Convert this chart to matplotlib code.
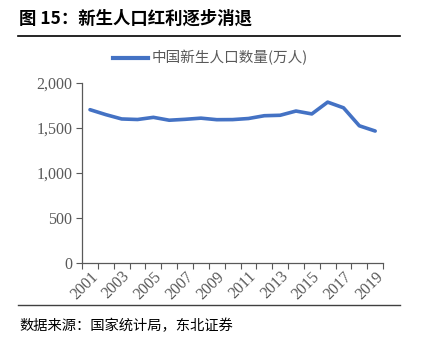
import matplotlib.pyplot as plt
from matplotlib.lines import Line2D

years = list(range(2001, 2020))
births = [1702, 1647, 1599, 1593, 1617, 1585, 1595, 1608, 1591, 1592,
          1604, 1635, 1640, 1687, 1655, 1786, 1723, 1523, 1465]
yticks = [0, 500, 1000, 1500, 2000]

cjk = ['Noto Sans CJK SC', 'DejaVu Sans']
serif = ['Liberation Serif', 'DejaVu Serif']
grey = '#595959'

fig = plt.figure(figsize=(4.21, 3.41), dpi=100)
ax = fig.add_axes([0.195, 0.229, 0.715, 0.528])

x = list(range(len(years)))
ax.plot(x, births, color='#4472C4', lw=2.6, solid_capstyle='round')

ax.set_xlim(-0.5, len(years) - 0.5)
ax.set_ylim(0, 2000)
ax.set_yticks(yticks)
ax.set_yticklabels([f'{v:,}' for v in yticks], fontfamily=serif, fontsize=11.5, color=grey)

# tick marks sit on category boundaries, labels on every other year
ax.set_xticks([i - 0.5 for i in range(len(years) + 1)])
ax.set_xticklabels([])
ax.set_xticks(x[::2], minor=True)
ax.set_xticklabels([str(y) for y in years[::2]], minor=True, rotation=45,
                   fontfamily=serif, fontsize=11.5, color=grey, ha='right',
                   va='top', rotation_mode='anchor')
ax.tick_params(axis='x', which='minor', length=0, pad=4)
ax.tick_params(axis='x', which='major', length=4, width=0.8, color=grey)
ax.tick_params(axis='y', length=4, width=0.8, color=grey, pad=3)

for s in ['top', 'right']:
    ax.spines[s].set_visible(False)
for s in ['left', 'bottom']:
    ax.spines[s].set_color(grey)
    ax.spines[s].set_linewidth(0.9)

handle = Line2D([], [], color='#4472C4', lw=3)
fig.legend([handle], ['中国新生人口数量(万人)'], loc='center',
           bbox_to_anchor=(0.5, 0.83), frameon=False, handlelength=2.4,
           handletextpad=0.3, prop={'family': cjk, 'size': 10.5},
           labelcolor=grey)

fig.text(0.045, 0.945, '图 15：新生人口红利逐步消退', fontfamily=cjk,
         fontsize=12.5, fontweight='bold', va='center')
fig.add_artist(Line2D([0.043, 0.95], [0.893, 0.893], color='black', lw=1.2))
fig.add_artist(Line2D([0.043, 0.95], [0.106, 0.106], color='#404040', lw=1.0))
fig.text(0.045, 0.043, '数据来源：国家统计局，东北证券', fontfamily=cjk,
         fontsize=10.3, va='center')

fig.savefig('out.png', dpi=100)
